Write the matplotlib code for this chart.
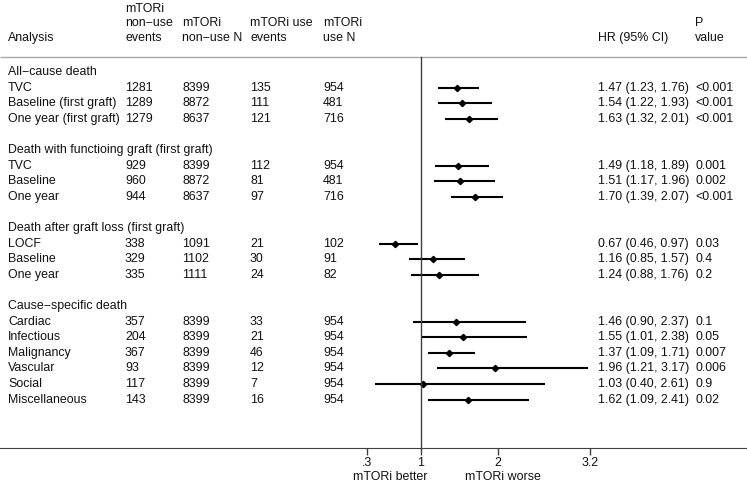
import matplotlib
matplotlib.use("Agg")
import matplotlib.pyplot as plt

plt.rcParams['font.family'] = ['Liberation Sans', 'DejaVu Sans']

# table data
group_titles = ["All\u2212cause death",
                "Death with functioing graft (first graft)",
                "Death after graft loss (first graft)",
                "Cause\u2212specific death"]
row_labels = [["TVC", "Baseline (first graft)", "One year (first graft)"],
              ["TVC", "Baseline", "One year"],
              ["LOCF", "Baseline", "One year"],
              ["Cardiac", "Infectious", "Malignancy", "Vascular", "Social", "Miscellaneous"]]

nonuse_events = [1281, 1289, 1279, 929, 960, 944, 338, 329, 335,
                 357, 204, 367, 93, 117, 143]
nonuse_n = [8399, 8872, 8637, 8399, 8872, 8637, 1091, 1102, 1111,
            8399, 8399, 8399, 8399, 8399, 8399]
use_events = [135, 111, 121, 112, 81, 97, 21, 30, 24,
              33, 21, 46, 12, 7, 16]
use_n = [954, 481, 716, 954, 481, 716, 102, 91, 82,
         954, 954, 954, 954, 954, 954]
hr = [1.47, 1.54, 1.63, 1.49, 1.51, 1.70, 0.67, 1.16, 1.24,
      1.46, 1.55, 1.37, 1.96, 1.03, 1.62]
ci_lo = [1.23, 1.22, 1.32, 1.18, 1.17, 1.39, 0.46, 0.85, 0.88,
         0.90, 1.01, 1.09, 1.21, 0.40, 1.09]
ci_hi = [1.76, 1.93, 2.01, 1.89, 1.96, 2.07, 0.97, 1.57, 1.76,
         2.37, 2.38, 1.71, 3.17, 2.61, 2.41]
pvals = ["<0.001", "<0.001", "<0.001", "0.001", "0.002", "<0.001",
         "0.03", "0.4", "0.2", "0.1", "0.05", "0.007", "0.006", "0.9", "0.02"]

xticks = [0.3, 1, 2, 3.2]
xtick_labels = [".3", "1", "2", "3.2"]

W, H = 747, 483
FS = 8.9
x_one = 420.7      # pixel of HR = 1
px_per_unit = 77.0

fig = plt.figure(figsize=(W / 100, H / 100), dpi=100)
ax = fig.add_axes([0, 0, 1, 1])
ax.set_xlim(1 - x_one / px_per_unit, 1 + (W - x_one) / px_per_unit)
ax.set_ylim(H, 0)


def px(x):
    # pixel column -> data x
    return 1 + (x - x_one) / px_per_unit


col_x = [8, 125, 182, 250, 323, 598, 695]
txt_col = "#111111"

# header
head_base = 41
line_h = 14.5
headers = [["Analysis"],
           ["mTORi", "non\u2212use", "events"],
           ["mTORi", "non\u2212use N"],
           ["mTORi use", "events"],
           ["mTORi", "use N"],
           ["HR (95% CI)"],
           ["P", "value"]]
for cx, lines in zip(col_x, headers):
    for k, s in enumerate(reversed(lines)):
        ax.text(px(cx), head_base - k * line_h, s, fontsize=FS,
                ha="left", va="baseline", color=txt_col)

ax.plot([px(0), px(W)], [57, 57], color="#a8a8a8", lw=1, solid_capstyle="butt")

# rows
row_h = 15.6
y = 72
i = 0
for g, title in enumerate(group_titles):
    ax.text(px(col_x[0]), y, title, fontsize=FS, va="center", ha="left", color=txt_col)
    y += row_h
    for lab in row_labels[g]:
        vals = [lab, nonuse_events[i], nonuse_n[i], use_events[i], use_n[i],
                "%.2f (%.2f, %.2f)" % (hr[i], ci_lo[i], ci_hi[i]), pvals[i]]
        for cx, v in zip(col_x, vals):
            ax.text(px(cx), y, str(v), fontsize=FS, va="center", ha="left", color=txt_col)
        ax.plot([ci_lo[i], ci_hi[i]], [y, y], color="black", lw=1.5,
                solid_capstyle="butt")
        ax.plot(hr[i], y, marker="D", color="black", ms=3.2)
        y += row_h
        i += 1
    y += row_h

# null line
ax.plot([1, 1], [57, 448], color="#404040", lw=1)

# bottom axis
for s in ["top", "left", "right"]:
    ax.spines[s].set_visible(False)
ax.spines["bottom"].set_position(("data", 448))
ax.spines["bottom"].set_color("#404040")
ax.set_xticks(xticks)
ax.set_xticklabels(xtick_labels)
ax.tick_params(axis="x", direction="out", length=5, width=1, color="#404040",
               labelsize=FS, pad=1.5, labelcolor=txt_col)
ax.set_yticks([])

ax.text(px(390), 477, "mTORi better", fontsize=FS, ha="center", va="center", color=txt_col)
ax.text(px(503), 477, "mTORi worse", fontsize=FS, ha="center", va="center", color=txt_col)

fig.savefig("out.png", dpi=100)
